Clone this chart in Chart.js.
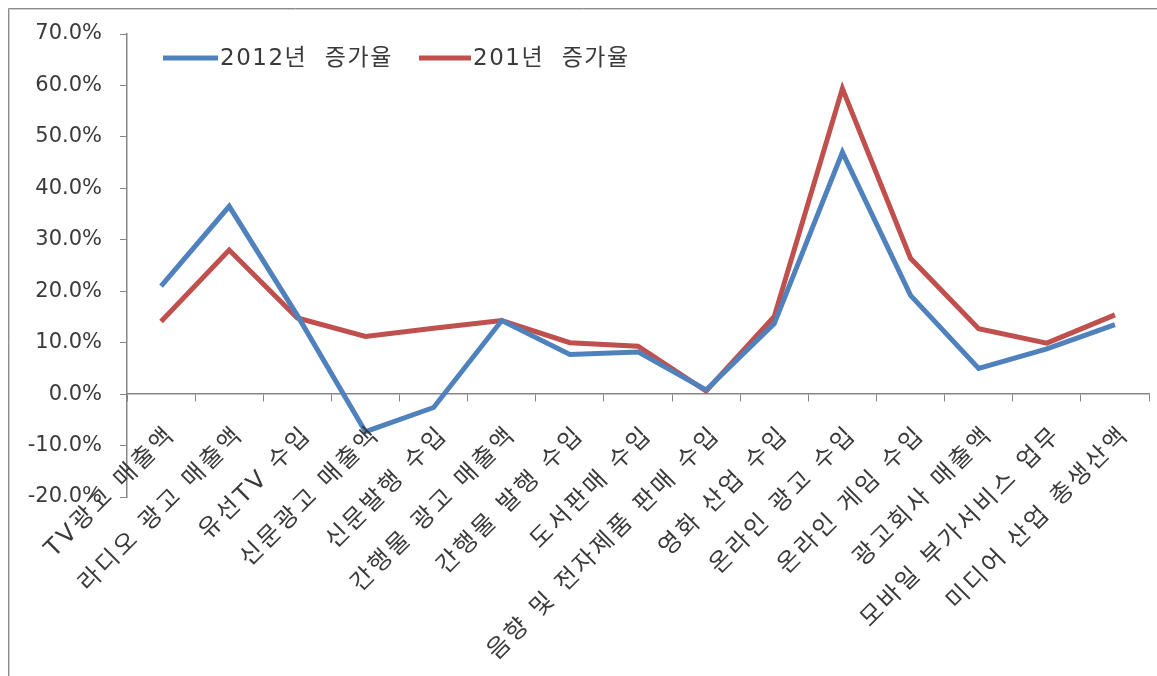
<!DOCTYPE html>
<html>
<head>
<meta charset="utf-8">
<script src="https://cdn.jsdelivr.net/npm/chart.js@4"></script>
<style>
  html, body { margin: 0; padding: 0; background: #fff; overflow: hidden; }
  #wrap { width: 1157px; height: 676px; }
</style>
</head>
<body>
<div id="wrap"><canvas id="lineChart" width="1157" height="676"></canvas></div>
<script>
// categories and values (percent)
const categories = ['TV광고 매출액', '라디오 광고 매출액', '유선TV 수입', '신문광고 매출액', '신문발행 수입',
  '간행물 광고 매출액', '간행물 발행 수입', '도서판매 수입', '음향 및 전자제품 판매 수입', '영화 산업 수입',
  '온라인 광고 수입', '온라인 게임 수입', '광고회사 매출액', '모바일 부가서비스 업무', '미디어 산업 총생산액'];
const series2012 = [21.0, 36.5, 15.3, -7.3, -2.6, 14.3, 7.7, 8.2, 0.8, 13.7, 47.0, 19.2, 5.0, 8.8, 13.5];
const series201 = [14.1, 28.0, 14.8, 11.2, 12.8, 14.3, 10.0, 9.3, 0.6, 15.1, 59.4, 26.4, 12.7, 9.9, 15.4];
const seriesNames = ['2012년  증가율', '201년  증가율'];
const yMin = -20, yMax = 70, yStep = 10;

const latinFont = '"DejaVu Sans", "Noto Sans CJK KR", sans-serif';
const axisGray = '#868686';
const textColor = '#3a3a3a';

// frame around the chart (top and left edges visible)
const framePlugin = {
  id: 'frame',
  beforeDraw(chart) {
    const c = chart.ctx;
    c.save();
    c.strokeStyle = '#8a8a8a';
    c.lineWidth = 1;
    c.beginPath();
    c.moveTo(8.5, chart.height);
    c.lineTo(8.5, 8.5);
    c.lineTo(chart.width, 8.5);
    c.stroke();
    c.strokeStyle = '#d0d0d0';
    c.beginPath();
    c.moveTo(9.5, chart.height);
    c.lineTo(9.5, 9.5);
    c.lineTo(chart.width, 9.5);
    c.stroke();
    c.restore();
  }
};

// rotated category labels hanging from the zero line
const catLabelPlugin = {
  id: 'catLabels',
  afterDraw(chart) {
    const c = chart.ctx;
    const xs = chart.scales.x, ys = chart.scales.y;
    const y0 = ys.getPixelForValue(0);
    c.save();
    c.font = '24px ' + latinFont;
    c.letterSpacing = '3px';
    c.fillStyle = textColor;
    c.textAlign = 'right';
    c.textBaseline = 'middle';
    categories.forEach((lab, i) => {
      const px = xs.getPixelForValue(i);
      c.save();
      c.translate(px + 11, y0 + 37);
      c.rotate(-Math.PI / 4);
      c.fillText(lab, 0, 0);
      c.restore();
    });
    c.restore();
  }
};

// legend drawn inside the plot area
const legendPlugin = {
  id: 'innerLegend',
  afterDraw(chart) {
    const c = chart.ctx;
    const spots = [[163, 218], [419, 471]];
    const ly = 58;
    c.save();
    c.font = '23px ' + latinFont;
    c.letterSpacing = '1.5px';
    c.textBaseline = 'middle';
    c.textAlign = 'left';
    chart.data.datasets.forEach((ds, i) => {
      c.strokeStyle = ds.borderColor;
      c.lineWidth = 5;
      c.beginPath();
      c.moveTo(spots[i][0], ly);
      c.lineTo(spots[i][1], ly);
      c.stroke();
      c.fillStyle = textColor;
      c.fillText(ds.label, spots[i][1] + 2, ly + 1);
    });
    c.restore();
  }
};

const ctx = document.getElementById('lineChart');
let myChart = new Chart(ctx, {
  type: 'line',
  data: {
    labels: categories,
    datasets: [{
      label: seriesNames[0],
      data: series2012,
      borderColor: '#4f81bd',
      borderWidth: 5,
      pointRadius: 0,
      tension: 0
    }, {
      label: seriesNames[1],
      data: series201,
      borderColor: '#c0504d',
      borderWidth: 5,
      pointRadius: 0,
      tension: 0
    }]
  },
  options: {
    responsive: false,
    animation: false,
    layout: { padding: { left: 8, top: 34, right: 8, bottom: 179 } },
    plugins: {
      legend: { display: false },
      tooltip: { enabled: false }
    },
    scales: {
      x: {
        type: 'category',
        position: { y: 0 },
        offset: true,
        grid: { offset: true, drawOnChartArea: false, drawTicks: true, tickLength: 7, color: axisGray, lineWidth: 1 },
        border: { display: true, color: axisGray, width: 1.5 },
        ticks: { display: false },
        afterFit(s) { s.height = 0; }
      },
      y: {
        min: yMin,
        max: yMax,
        grid: { drawOnChartArea: false, drawTicks: true, tickLength: 7, color: axisGray },
        border: { display: true, color: axisGray, width: 1.5 },
        ticks: {
          stepSize: yStep,
          padding: 18,
          color: textColor,
          font: { family: latinFont, size: 21 },
          callback: v => v.toFixed(1) + '%'
        },
        afterFit(s) { s.width = 119; }
      }
    }
  },
  plugins: [framePlugin, catLabelPlugin, legendPlugin]
});
</script>
</body>
</html>
